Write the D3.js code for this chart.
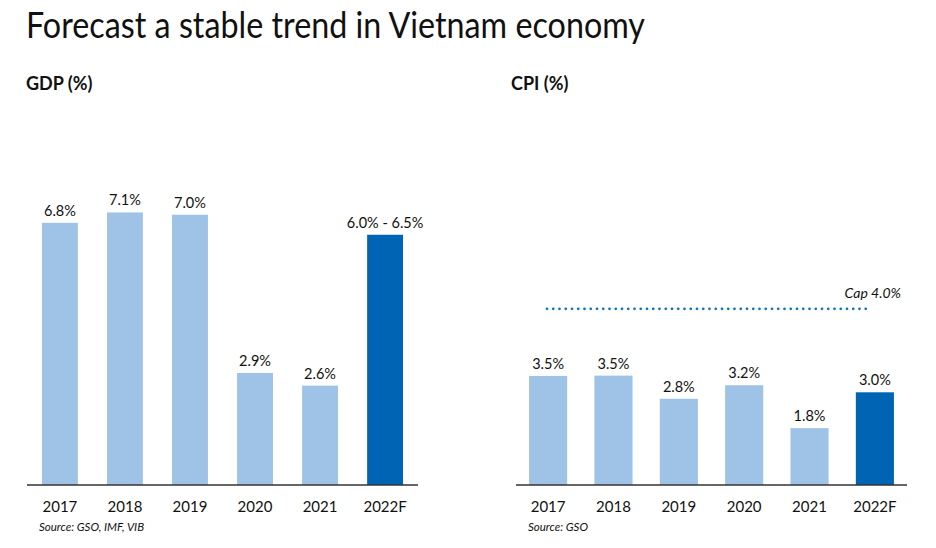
<!DOCTYPE html>
<html>
<head>
<meta charset="utf-8">
<script src="https://cdn.jsdelivr.net/npm/d3@7"></script>
<style>
  html, body { margin: 0; padding: 0; background: #fff; }
  svg { display: block; }
  text { font-family: Lato, "Open Sans", "Noto Sans", sans-serif; fill: #111; }
</style>
</head>
<body>
<svg id="chart" width="936" height="548"></svg>
<script>
// ---- data ----
const years = ["2017", "2018", "2019", "2020", "2021", "2022F"];
const gdpValues = [6.81, 7.08, 7.02, 2.91, 2.58, 6.5];
const gdpLabels = ["6.8%", "7.1%", "7.0%", "2.9%", "2.6%", "6.0% - 6.5%"];
const cpiValues = [3.53, 3.54, 2.79, 3.23, 1.84, 3.0];
const cpiLabels = ["3.5%", "3.5%", "2.8%", "3.2%", "1.8%", "3.0%"];
const capLabel = "Cap 4.0%";
// the reference draws the cap marker above the bars, not at 4.0 on the bar scale
const capLineLevel = 5.7;
const forecastYear = "2022F";

const light = "#9fc3e7", dark = "#0064b4";
const svg = d3.select("#chart");

svg.append("text").attr("x", 26).attr("y", 38)
  .attr("font-size", 36).attr("font-weight", 400)
  .attr("textLength", 619).attr("lengthAdjust", "spacingAndGlyphs")
  .text("Forecast a stable trend in Vietnam economy");

function panel(opt) {
  const g = svg.append("g");
  const x = d3.scaleBand().domain(years).range([opt.x0, opt.x1])
    .paddingInner(opt.pi).paddingOuter(opt.po);
  const y = d3.scaleLinear().domain([0, 1]).range([485, 485 - opt.pxPerUnit]);

  g.append("text").attr("x", opt.titleX).attr("y", 90)
    .attr("font-size", 18).attr("font-weight", 700).text(opt.title);

  g.selectAll("rect.bar").data(years).join("rect")
    .attr("class", "bar")
    .attr("x", d => x(d)).attr("width", x.bandwidth())
    .attr("y", (d, i) => y(opt.values[i]))
    .attr("height", (d, i) => y(0) - y(opt.values[i]))
    .attr("fill", d => d === forecastYear ? dark : light);

  g.selectAll("text.val").data(years).join("text")
    .attr("class", "val")
    .attr("x", d => x(d) + x.bandwidth() / 2)
    .attr("y", (d, i) => y(opt.values[i]) - 7)
    .attr("text-anchor", "middle").attr("font-size", 14.5)
    .text((d, i) => opt.labels[i]);

  const axis = g.append("g").attr("transform", `translate(0,${y(0)})`)
    .call(d3.axisBottom(x).tickSize(0).tickPadding(16).tickSizeOuter(0));
  axis.select(".domain").attr("stroke", "#333").attr("stroke-width", 1.5)
    .attr("d", `M${opt.x0},0H${opt.x1}`);
  axis.selectAll("text").attr("font-size", 15)
    .attr("font-family", "Lato, 'Open Sans', sans-serif").attr("fill", "#111");

  g.append("text").attr("x", opt.x0 + 12).attr("y", 531)
    .attr("font-size", 11.5).attr("font-style", "italic").text(opt.source);
  return { x, y, g };
}

panel({ x0: 27, x1: 418, pi: 0.448, po: 0.23, pxPerUnit: 38.5,
  title: "GDP (%)", titleX: 26, values: gdpValues, labels: gdpLabels,
  source: "Source: GSO, IMF, VIB" });

const cpi = panel({ x0: 516, x1: 907, pi: 0.417, po: 0.2, pxPerUnit: 30.9,
  title: "CPI (%)", titleX: 511, values: cpiValues, labels: cpiLabels,
  source: "Source: GSO" });

const capY = cpi.y(capLineLevel);
cpi.g.append("line")
  .attr("x1", 547).attr("x2", 872).attr("y1", capY).attr("y2", capY)
  .attr("stroke", "#1273c4").attr("stroke-width", 2.8)
  .attr("stroke-linecap", "round").attr("stroke-dasharray", "0,6.25");
cpi.g.append("text").attr("x", 901).attr("y", capY - 11)
  .attr("text-anchor", "end").attr("font-size", 14).attr("font-style", "italic")
  .text(capLabel);
</script>
</body>
</html>
